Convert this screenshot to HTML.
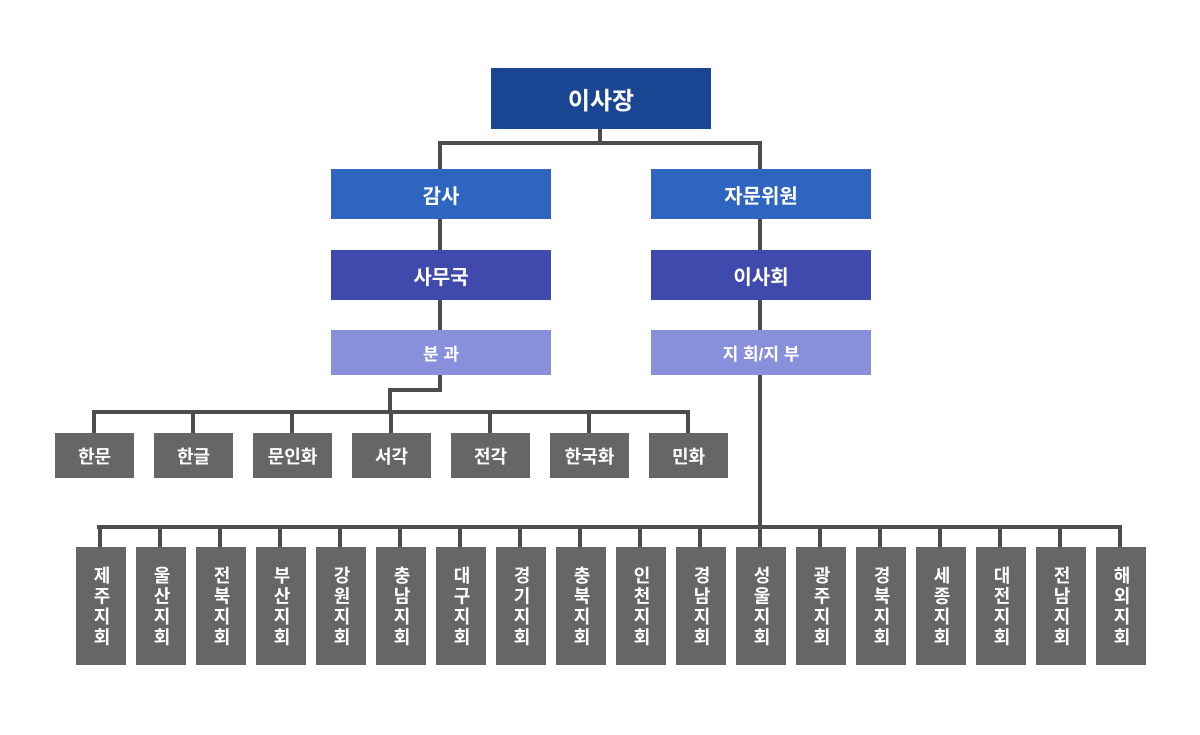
<!DOCTYPE html>
<html><head><meta charset="utf-8"><style>
body{margin:0;width:1200px;height:735px;background:#fff;position:relative;overflow:hidden;font-family:"Liberation Sans","Noto Sans CJK KR",sans-serif}
.b{position:absolute;color:#fff;font-weight:bold;display:flex;align-items:center;justify-content:center;box-sizing:border-box}
.l{position:absolute;background:#4d4d4d}
.v{writing-mode:vertical-rl;text-orientation:upright;font-size:18px;letter-spacing:2.5px;line-height:1}
</style></head><body>
<div class="l" style="left:598px;top:129px;width:4px;height:16px"></div>
<div class="l" style="left:438px;top:141px;width:324px;height:4px"></div>
<div class="l" style="left:438px;top:141px;width:4px;height:251px"></div>
<div class="l" style="left:758px;top:141px;width:4px;height:389px"></div>
<div class="l" style="left:388px;top:388px;width:54px;height:4px"></div>
<div class="l" style="left:388px;top:388px;width:4px;height:26px"></div>
<div class="l" style="left:92px;top:410px;width:594px;height:4px"></div>
<div class="l" style="left:97px;top:525px;width:1025px;height:4px"></div>

<div class="b" style="left:491px;top:68px;width:220px;height:61px;background:#1a4593;font-size:24px">이사장</div>
<div class="b" style="left:331px;top:169px;width:220px;height:50px;background:#2e65c0;font-size:20px">감사</div>
<div class="b" style="left:651px;top:169px;width:220px;height:50px;background:#2e65c0;font-size:20px">자문위원</div>
<div class="b" style="left:331px;top:250px;width:220px;height:50px;background:#404aad;font-size:20px">사무국</div>
<div class="b" style="left:651px;top:250px;width:220px;height:50px;background:#404aad;font-size:20px">이사회</div>
<div class="b" style="left:331px;top:330px;width:220px;height:45px;background:#8890dc;font-size:17px">분 과</div>
<div class="b" style="left:651px;top:330px;width:220px;height:45px;background:#8890dc;font-size:17px">지 회/지 부</div>
<script>
const divisions=["한문","한글","문인화","서각","전각","한국화","민화"];
const branches=["제주지회","울산지회","전북지회","부산지회","강원지회","충남지회","대구지회","경기지회","충북지회","인천지회","경남지회","성울지회","광주지회","경북지회","세종지회","대전지회","전남지회","해외지회"];
divisions.forEach((t,i)=>{
 const x=55+i*99;
 const s=document.createElement('div');s.className='l';
 
 
 s.style.cssText=`left:${x+37}px;top:410px;width:4px;height:23px`;document.body.appendChild(s);
 const d=document.createElement('div');d.className='b';d.textContent=t;
 
 
 d.style.cssText=`left:${x}px;top:433px;width:79px;height:45px;background:#666;font-size:18px`;document.body.appendChild(d);
});
branches.forEach((t,i)=>{
 const x=76+i*60;
 const s=document.createElement('div');s.className='l';
 
 
 s.style.cssText=`left:${x+22}px;top:525px;width:4px;height:22px`;document.body.appendChild(s);
 const d=document.createElement('div');d.className='b';
 
 
 d.style.cssText=`left:${x}px;top:547px;width:50px;height:118px;background:#666;align-items:flex-start;padding-top:19px`;
 const sp=document.createElement('span');sp.className='v';sp.textContent=t;d.appendChild(sp);
 document.body.appendChild(d);
});
</script>
</body></html>
